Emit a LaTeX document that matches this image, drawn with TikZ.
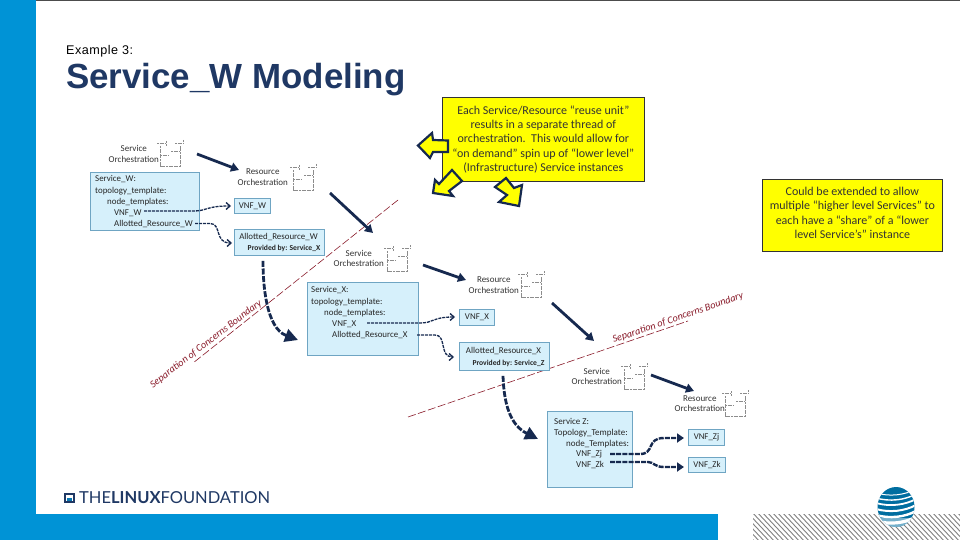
\documentclass[tikz,border=0pt]{standalone}
\usepackage{fontspec}
\setmainfont{Carlito}
\newfontfamily\titlefont{Liberation Sans}
\newfontfamily\kickerfont[LetterSpace=4]{Liberation Sans}
\newfontfamily\logofont{Lato}
\usetikzlibrary{arrows.meta,shapes.geometric}
\definecolor{lfblue}{HTML}{0093D6}
\definecolor{navy}{HTML}{16294F}
\definecolor{boxfill}{HTML}{D6F0FB}
\definecolor{boxline}{HTML}{6FA5C3}
\definecolor{ylw}{HTML}{FFFF00}
\definecolor{bred}{HTML}{8A1C2B}
\definecolor{titlec}{HTML}{1F3864}
\tikzset{
  svcbox/.style={draw=boxline,line width=0.9pt,fill=boxfill,anchor=north west,inner sep=0pt,font=\fontsize{8.9}{12}\selectfont,text=black!85},
  listtxt/.style={anchor=north west,inner sep=0pt,align=left,font=\fontsize{8.9}{11.2}\selectfont,text=black!85},
  orch/.style={anchor=east,inner sep=0pt,align=center,font=\fontsize{9}{10.6}\selectfont,text=black!80},
  callout/.style={draw=black!80,line width=0.7pt,fill=ylw,align=center,font=\fontsize{12}{14.4}\selectfont,text=black!80},
  flow/.style={draw=navy,line width=2.8pt,-{Triangle[length=8pt,width=9pt]}},
  flowdash/.style={draw=navy,line width=2.8pt,dash pattern=on 6pt off 1.6pt,-{Triangle[length=13pt,width=13pt]}},
  link/.style={draw=navy,line width=1.3pt,dash pattern=on 3pt off 1pt,-{Straight Barb[length=4pt,width=7pt]}},
  linkbold/.style={draw=navy,line width=2.4pt,dash pattern=on 5pt off 1.2pt,-{Triangle[length=7pt,width=9pt]}},
  boundary/.style={draw=bred,line width=0.6pt,dash pattern=on 8pt off 2.5pt},
  boundtxt/.style={text=bred,font=\fontsize{10.2}{12}\itshape\selectfont,inner sep=0pt},
  blockarrow/.style={draw=navy,line width=2.2pt,fill=ylw,line join=miter},
  icon/.style={draw=black!45,line width=0.45pt,dash pattern=on 2pt off 0.6pt}
}
\newcommand{\orchicon}[2]{%
  \begin{scope}[shift={(#1,#2)}]
    \draw[icon] (0,0) -- (9,0) (9,-2) -- (9,3) (18,0) -- (26,0) (26,-3) -- (26,0);
    \draw[icon] (3,3) -- (3,23) -- (23,23) -- (23,3);
    \draw[icon] (3,12) -- (12,12);
    \draw[icon] (14,8) -- (23,8);
  \end{scope}}
\begin{document}
\begin{tikzpicture}[x=1pt,y=-1pt]
\useasboundingbox (0,0) rectangle (960,540);
\fill[white] (0,0) rectangle (960,540);
% slide frame
\fill[black!70] (0,0) rectangle (960,0.8);
\fill[lfblue] (0,0) rectangle (36,540);
\fill[lfblue] (0,514) rectangle (718,540);
\begin{scope}
  \clip (753,514) rectangle (960,540);
  \foreach \i in {0,...,50}{\draw[black!50,line width=0.9pt] (725+\i*5,510) -- (757+\i*5,544);}
\end{scope}
% titles
\node[anchor=west,inner sep=0pt,font=\kickerfont\fontsize{12.6}{14}\selectfont,text=black] (kicker) at (66,51) {Example 3:};
\node[anchor=west,inner sep=0pt,font=\titlefont\bfseries\fontsize{34.9}{36}\selectfont,text=titlec] (title) at (66,80) {Service\_W Modeling};
% boundary lines
\coordinate (bl1) at (398,200); \coordinate (bl2) at (193,363);
\coordinate (br1) at (408,417); \coordinate (br2) at (688,321);
\draw[boundary] (bl1) -- (bl2);
\draw[boundary] (br1) -- (br2);
\node[boundtxt,rotate=37.5] (leftbound) at (206,344) {Separation of Concerns Boundary};
\node[boundtxt,rotate=19] (rightbound) at (678,318) {Separation of Concerns Boundary};
% service W group
\node[orch] (orchSW) at (159,154) {Service\\Orchestration};
\orchicon{157}{143}
\node[orch] (orchRW) at (288,177) {Resource\\Orchestration};
\orchicon{290}{167}
\node[svcbox,minimum width=109pt,minimum height=58pt] (svcW) at (90,172) {};
\node[listtxt] (svcWt) at (95,175.5) {Service\_W:\\topology\_template:\\\hspace{12pt}node\_templates:\\\hspace{19pt}VNF\_W\\\hspace{19pt}Allotted\_Resource\_W};
\node[svcbox,minimum width=36pt,minimum height=15pt,anchor=north west] (vnfW) at (234,198) {VNF\_W};
\node[svcbox,minimum width=90pt,minimum height=26pt] (allocW) at (234,229) {};
\node[anchor=center,inner sep=0pt,font=\fontsize{8.9}{11}\selectfont,text=black!85] (allocWa) at (278.5,237) {Allotted\_Resource\_W};
\node[anchor=center,inner sep=0pt,font=\bfseries\fontsize{7.6}{9}\selectfont,text=black!85] (allocWb) at (284,248.5) {Provided by: Service\_X};
% service X group
\node[orch] (orchSX) at (384,258.5) {Service\\Orchestration};
\orchicon{384}{248}
\node[orch] (orchRX) at (519,285) {Resource\\Orchestration};
\orchicon{518}{274}
\node[svcbox,minimum width=111pt,minimum height=73pt] (svcX) at (307,282) {};
\node[listtxt] (svcXt) at (311,286.5) {Service\_X:\\topology\_template:\\\hspace{13pt}node\_templates:\\\hspace{21pt}VNF\_X\\\hspace{21pt}Allotted\_Resource\_X};
\node[svcbox,minimum width=35pt,minimum height=16pt] (vnfX) at (459,309) {VNF\_X};
\node[svcbox,minimum width=90pt,minimum height=28pt] (allocX) at (459,342) {};
\node[anchor=center,inner sep=0pt,font=\fontsize{8.9}{11}\selectfont,text=black!85] (allocXa) at (503.5,351) {Allotted\_Resource\_X};
\node[anchor=center,inner sep=0pt,font=\bfseries\fontsize{7.6}{9}\selectfont,text=black!85] (allocXb) at (508.5,363) {Provided by: Service\_Z};
% service Z group
\node[orch] (orchSZ) at (622,376.5) {Service\\Orchestration};
\orchicon{621}{366}
\node[orch] (orchRZ) at (725,403.5) {Resource\\Orchestration};
\orchicon{722}{393}
\node[svcbox,minimum width=85pt,minimum height=76pt] (svcZ) at (547,411) {};
\node[anchor=north west,inner sep=0pt,align=left,font=\fontsize{9}{10.7}\selectfont,text=black!85] (svcZt) at (554,418.5) {Service Z:\\Topology\_Template:\\\hspace{12pt}node\_Templates:\\\hspace{22pt}VNF\_Zj\\\hspace{22pt}VNF\_Zk};
\node[svcbox,minimum width=36pt,minimum height=16pt,font=\fontsize{8.8}{10}\selectfont] (vnfZj) at (688,429) {VNF\_Zj};
\node[svcbox,minimum width=37pt,minimum height=15pt,font=\fontsize{8.8}{10}\selectfont] (vnfZk) at (688,457) {VNF\_Zk};
% flow arrows
\coordinate (a1s) at (197,154); \coordinate (a1e) at (239,170);
\coordinate (a2s) at (330,193); \coordinate (a2e) at (373,233);
\coordinate (a3s) at (423,265); \coordinate (a3e) at (466,280);
\coordinate (a4s) at (552,303); \coordinate (a4e) at (594,341);
\coordinate (a5s) at (651,375); \coordinate (a5e) at (694,391);
\draw[flow] (a1s) -- (a1e);
\draw[flow] (a2s) -- (a2e);
\draw[flow] (a3s) -- (a3e);
\draw[flow] (a4s) -- (a4e);
\draw[flow] (a5s) -- (a5e);
\draw[flowdash] (allocW.south west) ++(29,5) coordinate (d1s) .. controls +(0,24) and (266,328) .. (298,340);
\draw[flowdash] (allocX.south west) ++(44,5) coordinate (d2s) .. controls +(1,28) and (510,425) .. (538,439);
% dashed links
\coordinate (lW1) at (144,211); \coordinate (lW2) at (195,223.5);
\coordinate (lX1) at (367,323); \coordinate (lX2) at (417,335);
\coordinate (eW1) at (231,206); \coordinate (eW2) at (232,243);
\coordinate (eX1) at (455,317); \coordinate (eX2) at (454,357);
\draw[link] (lW1) -- (193,211) .. controls (208,211) and (205,206) .. (eW1);
\draw[link] (lW2) -- (210,223.5) .. controls (222,223.5) and (214,243) .. (eW2);
\draw[link] (lX1) -- (420,323) .. controls (434,323) and (432,317) .. (eX1);
\draw[link] (lX2) -- (435,335) .. controls (447,335) and (439,357) .. (eX2);
\coordinate (lZ1) at (610,454); \coordinate (lZ2) at (610,462);
\coordinate (eZ1) at (684,438); \coordinate (eZ2) at (684,467);
\draw[linkbold] (lZ1) -- (640,454) .. controls (655,454) and (646,438) .. (664,438) -- (eZ1);
\draw[linkbold] (lZ2) -- (648,462) .. controls (654,462) and (654,467) .. (664,467) -- (eZ2);
% callouts
\node[callout,anchor=north west,minimum width=202pt,minimum height=84pt,inner sep=0pt] (c1) at (442,97) {Each Service/Resource “reuse unit”\\results in a separate thread of\\orchestration.\ \ This would allow for\\“on demand” spin up of “lower level”\\(Infrastructure) Service instances};
\node[callout,anchor=north west,minimum width=180pt,minimum height=72pt,inner sep=0pt] (c2) at (762,179) {Could be extended to allow\\multiple “higher level Services” to\\each have a “share” of a “lower\\level Service’s” instance\\[-9.4pt]\mbox{}};
% block arrows
\draw[blockarrow] (418,145.5) -- (432,133) -- (433,140) -- (448,140.5) -- (448,152) -- (433,152) -- (430,158) -- cycle;
\draw[blockarrow] (433,193) -- (435,180) -- (439,184) -- (452,170) -- (462,181) -- (449,191) -- (453,196) -- cycle;
\draw[blockarrow] (519,206) -- (499,202) -- (507,195) -- (495,187) -- (506,178) -- (514,188) -- (522,185) -- cycle;
% logo
\node[draw=titlec,fill=white,line width=1.6pt,minimum size=8.5pt,inner sep=0pt] (lfmark) at (69.5,498) {};
\fill[lfblue!70!titlec] (67,498) rectangle (72,501);
\node[anchor=west,inner sep=0pt,font=\logofont\fontsize{16.5}{18}\selectfont,text=titlec] (lflogo) at (79,498) {THE\textbf{LINUX}FOUNDATION};
% globe
\begin{scope}
  \clip (896,507) ellipse (18.5 and 20);
  \fill[lfblue!75!black] (876,486) rectangle (916,528);
  \foreach \y/\w in {491/1,496/1.4,501/1.8,507/2,513/2.4,519/3.2}{\draw[white,line width=\w pt] (876,\y+2) .. controls (890,\y+6) and (905,\y+4) .. (916,\y-2);}
  \fill[white,opacity=.45] (876,518) rectangle (916,530);
\end{scope}
\end{tikzpicture}
\end{document}
